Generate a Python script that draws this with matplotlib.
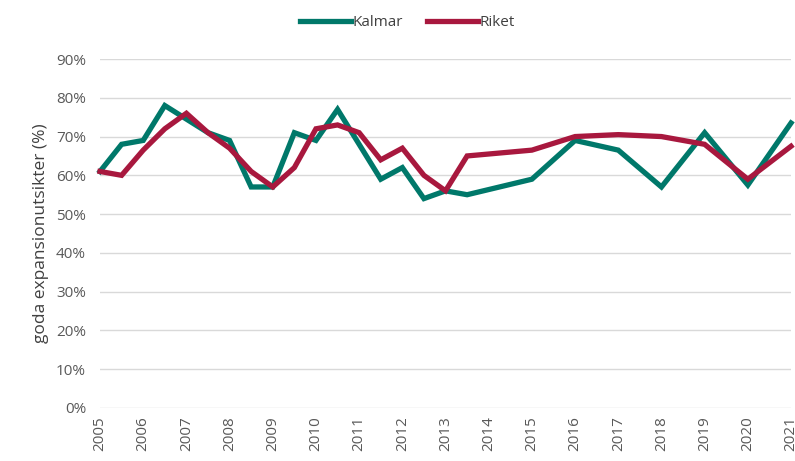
import numpy as np
from matplotlib import pyplot as plt
from matplotlib.ticker import PercentFormatter

# tidpunkter (halvår fram till 2013, sedan helår)
tid = [2005, 2005.5, 2006, 2006.5, 2007, 2007.5, 2008, 2008.5, 2009, 2009.5,
       2010, 2010.5, 2011, 2011.5, 2012, 2012.5, 2013, 2013.5,
       2015, 2016, 2017, 2018, 2019, 2020, 2021]
kalmar = [61, 68, 69, 78, 74.5, 71, 69, 57, 57, 71,
          69, 77, 68, 59, 62, 54, 56, 55,
          59, 69, 66.5, 57, 71, 57.5, 73.5]
riket = [61, 60, 66.5, 72, 76, 71, 67, 61, 57, 62,
         72, 73, 71, 64, 67, 60, 56, 65,
         66.5, 70, 70.5, 70, 68, 59, 67.5]
ar = list(range(2005, 2022))

plt.rcParams['font.family'] = ['Open Sans', 'DejaVu Sans']

fig = plt.figure(figsize=(7.95, 4.61), dpi=100)
ax = fig.add_axes([0.1258, 0.115, 0.8692, 0.757])

ax.plot(tid, kalmar, lw=3.8, c='#00786A', label='Kalmar', solid_joinstyle='miter', clip_on=False, zorder=3)
ax.plot(tid, riket, lw=3.8, c='#A8183E', label='Riket', solid_joinstyle='miter', clip_on=False, zorder=3)

ax.set_xlim(2005, 2021)
ax.set_ylim(0, 90)
ax.set_yticks(np.arange(0, 91, 10))
ax.yaxis.set_major_formatter(PercentFormatter(decimals=0))
ax.set_xticks(ar)
ax.set_xticklabels([str(a) for a in ar], rotation=90)
ax.tick_params(axis='both', length=0, labelsize=11, colors='#595959')
ax.tick_params(axis='y', pad=10)
ax.tick_params(axis='x', pad=6)
ax.grid(axis='y', color='#D9D9D9', lw=1)
ax.set_axisbelow(True)
for s in ax.spines.values():
    s.set_visible(False)

ax.set_ylabel('goda expansionutsikter (%)', fontsize=12.5, color='#404040', labelpad=5)

ax.legend(loc='upper center', bbox_to_anchor=(0.445, 1.165), ncol=2, frameon=False,
          fontsize=11, handlelength=3.3, handletextpad=0.1, columnspacing=1.6,
          labelcolor='#404040')

plt.savefig('out.png', dpi=100)
